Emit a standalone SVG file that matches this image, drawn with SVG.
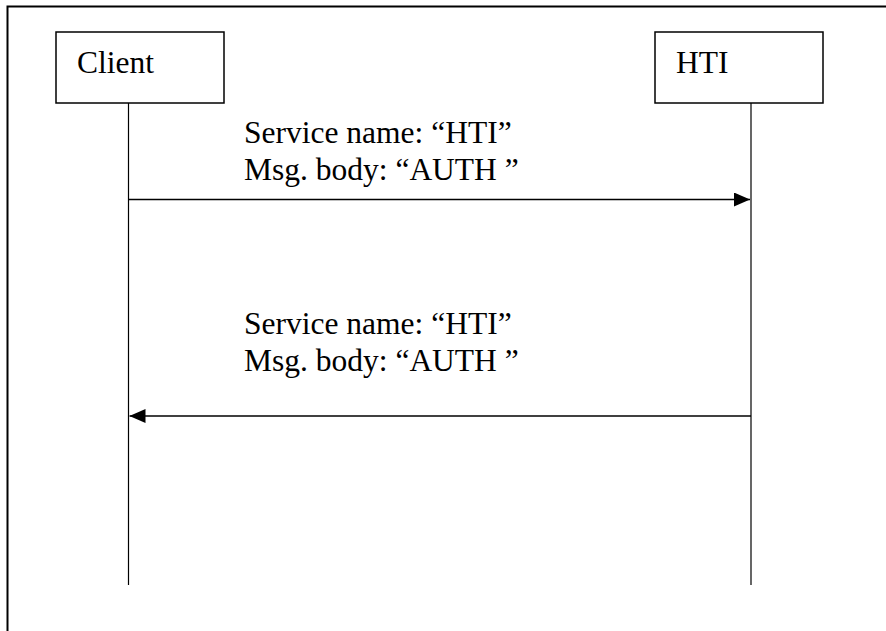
<svg xmlns="http://www.w3.org/2000/svg" width="886" height="631" viewBox="0 0 886 631">
<style>
  .box { fill: #fff; stroke: #000; stroke-width: 1.5; }
  .life { stroke: #000; stroke-width: 1.2; fill: none; }
  .msg { stroke: #000; stroke-width: 1.5; fill: none; }
  text { font-family: "Liberation Serif", "Times New Roman", serif; font-size: 31.5px; fill: #000; }
</style>
<defs>
  <marker id="ah" viewBox="0 0 16 14" refX="16" refY="7" markerWidth="16" markerHeight="14" markerUnits="userSpaceOnUse" orient="auto">
    <path d="M0,0 L16,7 L0,14 Z" fill="#000"/>
  </marker>
</defs>
<rect width="886" height="631" fill="#fff"/>
<path d="M7.5,640 L7.5,6.5 L900,6.5" fill="none" stroke="#000" stroke-width="2"/>
<g id="client">
  <rect class="box" x="56" y="32" width="168" height="71"/>
  <text x="77" y="73">Client</text>
  <line class="life" x1="128.5" y1="103" x2="128.5" y2="585"/>
</g>
<g id="hti">
  <rect class="box" x="655" y="32" width="168" height="71"/>
  <text x="676" y="73">HTI</text>
  <line class="life" x1="751" y1="103" x2="751" y2="585"/>
</g>
<g id="connectors">
  <line class="msg" x1="128.5" y1="199.5" x2="750" y2="199.5" marker-end="url(#ah)"/>
  <line class="msg" x1="751" y1="416" x2="129.5" y2="416" marker-end="url(#ah)"/>
</g>
<g id="labels">
  <text x="244" y="143">Service name: “HTI”</text>
  <text x="244" y="180">Msg. body: “AUTH ”</text>
  <text x="244" y="334">Service name: “HTI”</text>
  <text x="244" y="371">Msg. body: “AUTH ”</text>
</g>
</svg>
